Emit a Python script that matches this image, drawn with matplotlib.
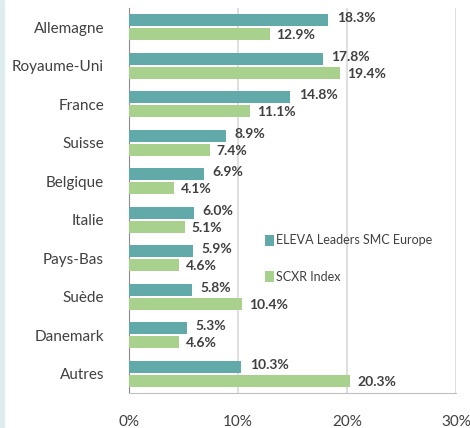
import numpy as np
import matplotlib.pyplot as plt
from matplotlib.patches import Rectangle

# data
countries = ['Allemagne', 'Royaume-Uni', 'France', 'Suisse', 'Belgique',
             'Italie', 'Pays-Bas', 'Suède', 'Danemark', 'Autres']
eleva = [18.3, 17.8, 14.8, 8.9, 6.9, 6.0, 5.9, 5.8, 5.3, 10.3]
scxr = [12.9, 19.4, 11.1, 7.4, 4.1, 5.1, 4.6, 10.4, 4.6, 20.3]
series_names = ['ELEVA Leaders SMC Europe', 'SCXR Index']
xticks = [0, 10, 20, 30]

teal = '#62aaaa'
green = '#a9d18e'
txt = '#404040'

plt.rcParams['font.family'] = ['Lato', 'DejaVu Sans']

fig = plt.figure(figsize=(4.7, 4.28), dpi=100)
fig.patches.append(Rectangle((0, 0), 4 / 470, 1, transform=fig.transFigure,
                             color='#deeef0', zorder=0))
ax = fig.add_axes([129 / 470, 35 / 428, 327 / 470, 385 / 428])

y = np.arange(len(countries))
h = 0.31
off = 0.18
b1 = ax.barh(y - off, eleva, height=h, color=teal, label=series_names[0], zorder=3)
b2 = ax.barh(y + off, scxr, height=h, color=green, label=series_names[1], zorder=3)

for yi, v in zip(y, eleva):
    ax.annotate(f'{v:.1f}%', (v, yi - off - 0.05), xytext=(6, 0), textcoords='offset points',
                va='center', ha='left', fontsize=10, fontweight='bold', color=txt)
for yi, v in zip(y, scxr):
    ax.annotate(f'{v:.1f}%', (v, yi + off + 0.03), xytext=(5, 0), textcoords='offset points',
                va='center', ha='left', fontsize=10, fontweight='bold', color=txt)

ax.set_ylim(len(countries) - 0.5, -0.5)
ax.set_xlim(0, 30)
ax.set_yticks(y)
ax.set_yticklabels(countries, fontsize=11, color=txt)
ax.set_xticks(xticks)
ax.set_xticklabels([f'{t}%' for t in xticks], fontsize=11, color=txt)
ax.tick_params(axis='y', length=0, pad=18)
ax.tick_params(axis='x', length=0, pad=16)
ax.grid(axis='x', color='#d9d9d9', linewidth=1.2, zorder=0)
for s in ['top', 'right']:
    ax.spines[s].set_visible(False)
ax.spines['left'].set_color('#8c8c8c')
ax.spines['bottom'].set_color('#bfbfbf')

ax.legend(loc='upper left', bbox_to_anchor=(0.40, 0.425), frameon=False, fontsize=9,
          handlelength=0.7, handleheight=1.0, handletextpad=0.2, labelspacing=1.95,
          labelcolor=txt, borderaxespad=0)

fig.savefig('out.png', dpi=100)
